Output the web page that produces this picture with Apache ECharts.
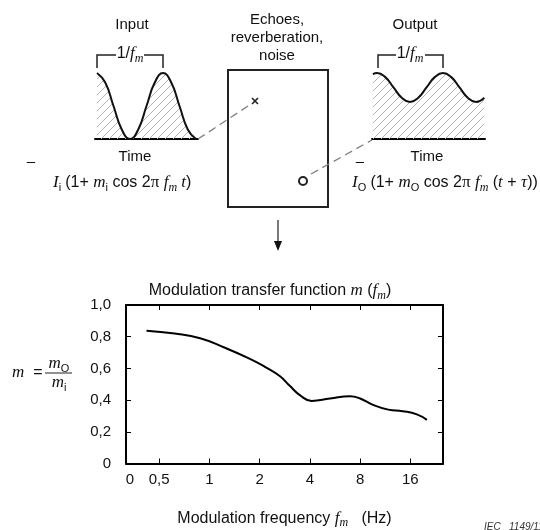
<!DOCTYPE html>
<html lang="en">
<head>
<meta charset="UTF-8">
<title>Modulation transfer function</title>
<style>
  * { margin: 0; padding: 0; }
  body { background: #fff; }
  #chart { width: 540px; height: 530px; }
</style>
</head>
<body>
<div id="chart"></div>
<script src="https://cdn.jsdelivr.net/npm/echarts@6/dist/echarts.min.js"></script>
<script>
// MTF curve: frequency (Hz) and m
var mtfFreq  = [0.42, 0.62, 0.88, 1.24, 1.75, 2.15, 2.65, 3.03, 3.5, 4.1, 5.28, 6.96, 8.0, 9.56, 11.8, 14.4, 17.5, 20.1];
var mtfValue = [0.838, 0.82, 0.79, 0.73, 0.66, 0.61, 0.55, 0.49, 0.43, 0.395, 0.41, 0.425, 0.41, 0.37, 0.34, 0.33, 0.31, 0.275];

// octave ticks on the frequency axis
var freqTicks = [0.5, 1, 2, 4, 8, 16];
var freqTickLabels = ['0,5', '1', '2', '4', '8', '16'];
var yTickLabels = ['0', '0,2', '0,4', '0,6', '0,8', '1,0'];

// input / output waveforms (time in periods 1/fm, level relative to mean)
var inputTime   = [0, 0.125, 0.25, 0.375, 0.5, 0.625, 0.75, 0.875, 1, 1.125, 1.25, 1.375, 1.5];
var inputLevel  = [2, 1.71, 1, 0.29, 0, 0.29, 1, 1.71, 2, 1.71, 1, 0.29, 0];
var outputTime  = [-0.0625, 0, 0.125, 0.25, 0.375, 0.5, 0.625, 0.75, 0.875, 1, 1.125, 1.25, 1.375, 1.5, 1.625];
var outputLevel = [1.26, 1.28, 1.2, 1, 0.8, 0.72, 0.8, 1, 1.2, 1.28, 1.2, 1, 0.8, 0.72, 0.8];

var SANS = 'Liberation Sans, Arial, sans-serif';
var SERIF = 'Liberation Serif, Times New Roman, serif';

var xMin = -1.66, xMax = 4.65;
var zeroLabelPos = xMin + 0.08;

function hatch() {
  var c = document.createElement('canvas');
  c.width = 8; c.height = 8;
  var g = c.getContext('2d');
  g.strokeStyle = '#b4b4b4';
  g.lineWidth = 1;
  g.beginPath();
  g.moveTo(-1, 9); g.lineTo(9, -1);
  g.moveTo(-1, 1); g.lineTo(1, -1);
  g.moveTo(7, 9); g.lineTo(9, 7);
  g.stroke();
  return c;
}

var rich = {
  s:    { fontFamily: SANS, fontSize: 16, fontWeight: 'normal', color: '#111', lineHeight: 18 },
  si:   { fontFamily: SERIF, fontStyle: 'italic', fontWeight: 'normal', fontSize: 17, color: '#111', lineHeight: 18 },
  pi:   { fontFamily: SERIF, fontSize: 17, fontWeight: 'normal', color: '#111', lineHeight: 18 },
  sub:  { fontFamily: SANS, fontSize: 11, fontWeight: 'normal', color: '#111', lineHeight: 11, padding: [10, 0, 0, 0] },
  subi: { fontFamily: SERIF, fontStyle: 'italic', fontWeight: 'normal', fontSize: 12, color: '#111', lineHeight: 11, padding: [9, 0, 0, 0] }
};

function txt(x, y, text, align, size, useRich) {
  var st = {
    text: text, x: x, y: y, fill: '#111',
    font: (size || 15) + 'px ' + SANS,
    align: align || 'center', textAlign: align || 'center',
    verticalAlign: 'middle', textVerticalAlign: 'middle'
  };
  if (useRich) st.rich = rich;
  return { type: 'text', style: st, z: 10 };
}

function seg(pts, opt) {
  opt = opt || {};
  return {
    type: 'polyline', shape: { points: pts }, z: 10,
    style: { stroke: opt.color || '#222', lineWidth: opt.width || 1.5, fill: null, lineDash: opt.dash || null }
  };
}

function main () {
  var chart = echarts.init(document.getElementById('chart'));
  var pattern = { image: hatch(), repeat: 'repeat' };

  var graphics = [
    // input side
    txt(132, 25, 'Input'),
    txt(130, 54, '{s|1/}{si|f}{subi|m}', 'center', 15, true),
    seg([[97, 68], [97, 55], [116, 55]]),
    seg([[144, 55], [163, 55], [163, 68]]),
    txt(135, 157, 'Time'),
    txt(31, 162, '–'),
    txt(53, 183, '{si|I}{sub|i} {s|(1+ }{si|m}{sub|i}{s| cos 2}{pi|π}{s| }{si|f}{subi|m}{si| t}{s|)}', 'left', 15, true),
    // channel box
    txt(277, 20, 'Echoes,'),
    txt(277, 38, 'reverberation,'),
    txt(277, 56, 'noise'),
    { type: 'rect', shape: { x: 228, y: 70, width: 100, height: 137 }, z: 10,
      style: { stroke: '#222', lineWidth: 2, fill: null } },
    seg([[252, 98], [258, 104]], { width: 1.6 }),
    seg([[258, 98], [252, 104]], { width: 1.6 }),
    { type: 'circle', shape: { cx: 303, cy: 181, r: 4 }, z: 10,
      style: { stroke: '#222', lineWidth: 2, fill: '#fff' } },
    seg([[198, 139], [251, 104]], { color: '#808080', width: 1.3, dash: [8, 5] }),
    seg([[311, 174], [372, 140]], { color: '#808080', width: 1.3, dash: [8, 5] }),
    seg([[278, 220], [278, 243]], { width: 1.2 }),
    { type: 'polygon', shape: { points: [[274, 241], [282, 241], [278, 251]] }, z: 10,
      style: { fill: '#111' } },
    // output side
    txt(415, 25, 'Output'),
    txt(410, 54, '{s|1/}{si|f}{subi|m}', 'center', 15, true),
    seg([[378, 68], [378, 55], [396, 55]]),
    seg([[425, 55], [443, 55], [443, 68]]),
    txt(427, 157, 'Time'),
    txt(360, 162, '–'),
    txt(352, 183, '{si|I}{sub|O} {s|(1+ }{si|m}{sub|O}{s| cos 2}{pi|π}{s| }{si|f}{subi|m}{s| (}{si|t}{s| + }{si|τ}{s|))}', 'left', 15, true),
    // m = mo / mi
    txt(12, 373, '{si|m}{s|  =}', 'left', 15, true),
    txt(59, 364, '{si|m}{sub|O}', 'center', 15, true),
    seg([[45, 373], [72, 373]], { width: 1 }),
    txt(59, 383, '{si|m}{sub|i}', 'center', 15, true),
    // figure reference
    { type: 'text', z: 10, style: { text: 'IEC   1149/11', x: 484, y: 522, fill: '#333',
      font: 'italic 10px ' + SANS, align: 'left', textAlign: 'left' } }
  ];

  var hideAxis = { axisLine: { show: false }, axisTick: { show: false }, axisLabel: { show: false }, splitLine: { show: false } };
  var frameLine = { show: true, onZero: false, lineStyle: { color: '#000', width: 2 } };

  var option = {
    animation: false,
    backgroundColor: '#fff',
    title: {
      text: '{s|Modulation transfer function }{si|m}{s| (}{si|f}{subi|m}{s|)}',
      left: 'center', top: 277,
      textStyle: { fontWeight: 'normal', rich: rich }
    },
    grid: [
      { left: 126, right: 97, top: 305, bottom: 58 },
      { left: 95, width: 103, top: 73, height: 66 },
      { left: 372, width: 113, top: 73, height: 66 }
    ],
    xAxis: [
      {
        type: 'value', gridIndex: 0, min: xMin, max: xMax,
        axisLine: frameLine,
        axisTick: { inside: true, length: 5, lineStyle: { color: '#000' },
          customValues: freqTicks.map(function (f) { return Math.log2(f); }) },
        axisLabel: {
          color: '#111', fontSize: 15, fontFamily: SANS, margin: 9,
          customValues: [zeroLabelPos].concat(freqTicks.map(function (f) { return Math.log2(f); })),
          formatter: function (v) {
            if (Math.abs(v - zeroLabelPos) < 1e-6) return '0';
            var i = freqTicks.indexOf(Math.round(Math.pow(2, v) * 100) / 100);
            return i >= 0 ? freqTickLabels[i] : '';
          }
        },
        splitLine: { show: false },
        name: '{s|Modulation frequency }{si|f}{subi|m}{s|   (Hz)}',
        nameLocation: 'middle', nameGap: 46,
        nameTextStyle: { rich: rich }
      },
      {
        type: 'value', gridIndex: 0, position: 'top', min: xMin, max: xMax,
        axisLine: frameLine,
        axisTick: { inside: true, length: 5, lineStyle: { color: '#000' },
          customValues: freqTicks.map(function (f) { return Math.log2(f); }) },
        axisLabel: { show: false }, splitLine: { show: false }
      },
      Object.assign({ type: 'value', gridIndex: 1, min: -0.0303, max: 1.53 }, hideAxis, { axisLine: frameLine }),
      Object.assign({ type: 'value', gridIndex: 2, min: -0.0758, max: 1.636 }, hideAxis, { axisLine: frameLine })
    ],
    yAxis: [
      {
        type: 'value', gridIndex: 0, min: 0, max: 1, interval: 0.2,
        axisLine: frameLine,
        axisTick: { inside: true, length: 5, lineStyle: { color: '#000' } },
        axisLabel: {
          color: '#111', fontSize: 15, fontFamily: SANS, margin: 15,
          formatter: function (v) { return yTickLabels[Math.round(v * 5)]; }
        },
        splitLine: { show: false }
      },
      {
        type: 'value', gridIndex: 0, position: 'right', min: 0, max: 1, interval: 0.2,
        axisLine: frameLine,
        axisTick: { inside: true, length: 5, lineStyle: { color: '#000' } },
        axisLabel: { show: false }, splitLine: { show: false }
      },
      Object.assign({ type: 'value', gridIndex: 1, min: 0, max: 2 }, hideAxis),
      Object.assign({ type: 'value', gridIndex: 2, min: 0, max: 1.28 }, hideAxis)
    ],
    series: [
      {
        type: 'line', xAxisIndex: 0, yAxisIndex: 0, smooth: true, symbol: 'none',
        lineStyle: { color: '#000', width: 2 },
        data: mtfFreq.map(function (f, i) { return [Math.log2(f), mtfValue[i]]; })
      },
      {
        type: 'line', xAxisIndex: 2, yAxisIndex: 2, smooth: true, symbol: 'none',
        lineStyle: { color: '#111', width: 2 },
        areaStyle: { color: pattern, opacity: 1 },
        data: inputTime.map(function (t, i) { return [t, inputLevel[i]]; })
      },
      {
        type: 'line', xAxisIndex: 3, yAxisIndex: 3, smooth: true, symbol: 'none',
        lineStyle: { color: '#111', width: 2 },
        areaStyle: { color: pattern, opacity: 1 },
        data: outputTime.map(function (t, i) { return [t, outputLevel[i]]; })
      }
    ],
    graphic: graphics
  };
  chart.setOption(option);
}

window.addEventListener('load', main);
</script>
</body>
</html>
